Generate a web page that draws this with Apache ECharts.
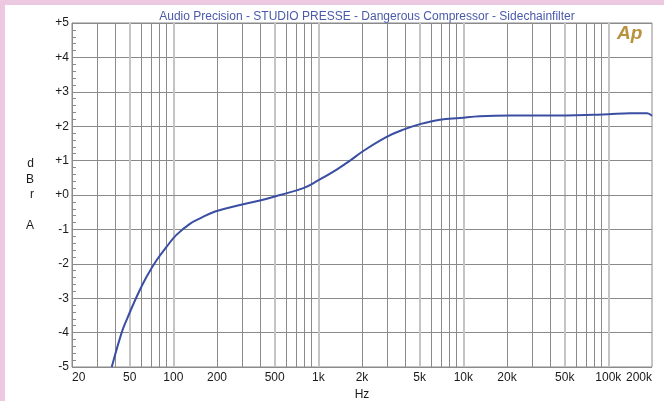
<!DOCTYPE html>
<html>
<head>
<meta charset="utf-8">
<script src="https://cdn.jsdelivr.net/npm/echarts@6/dist/echarts.min.js"></script>
<style>
  html, body { margin: 0; padding: 0; }
  #chart { width: 664px; height: 401px; }
</style>
</head>
<body>
<div id="chart"></div>
<script>
// frequency response
const freqHz = [37.6, 44, 47.7, 57.4, 65.5, 76.8, 90, 105, 130, 153, 194, 288, 396, 544, 788, 974,
  1338, 1654, 2041, 2960, 3855, 5024, 6900, 9480, 13000, 21000, 40000, 78400, 100000, 141000, 185000, 200000]
const levelDb = [-5.0, -4.0, -3.62, -2.85, -2.37, -1.89, -1.5, -1.16, -0.84, -0.68, -0.48, -0.29, -0.16, 0.0, 0.2, 0.4,
  0.74, 1.0, 1.28, 1.69, 1.9, 2.06, 2.19, 2.24, 2.29, 2.31, 2.31, 2.33, 2.35, 2.38, 2.38, 2.3]

// grid lines: the 1x / 5x decades are drawn lighter and wider
const darkLines = [30, 40, 60, 70, 80, 90, 200, 300, 400, 600, 700, 800, 900,
  2000, 3000, 4000, 6000, 7000, 8000, 9000, 20000, 30000, 40000, 60000, 70000, 80000, 90000]
const lightLines = [50, 100, 500, 1000, 5000, 10000, 50000, 100000]
const xTickLabels = [20, 50, 100, 200, 500, 1000, 2000, 5000, 10000, 20000, 50000, 100000, 200000]

const title = 'Audio Precision - STUDIO PRESSE - Dangerous Compressor - Sidechainfilter'

const chart = echarts.init(document.getElementById('chart'))
const font = 'Liberation Sans, Arial, sans-serif'

const fmtHz = v => (v >= 1000 ? v / 1000 + 'k' : String(v))

chart.setOption({
  backgroundColor: '#ffffff',
  animation: false,
  textStyle: { fontFamily: font },
  title: {
    text: title,
    left: 362,
    textAlign: 'center',
    top: 6,
    textStyle: { color: '#4a5aaa', fontSize: 12, fontWeight: 'normal', fontFamily: font }
  },
  graphic: [
    // pink frame on the left and top
    { type: 'rect', left: 0, top: 0, shape: { width: 664, height: 5 }, style: { fill: '#ecc9e1' }, silent: true },
    { type: 'rect', left: 0, top: 0, shape: { width: 5, height: 401 }, style: { fill: '#ecc9e1' }, silent: true },
    // AP logo
    {
      type: 'text', left: 617, top: 24, z: 10,
      style: { text: 'Ap', fill: '#b8913c', font: 'italic bold 19px "Liberation Sans", sans-serif' }
    }
  ],
  grid: {
    left: 72, top: 23, right: 12, bottom: 34,
    outerBoundsMode: 'none',
    show: true, borderColor: '#8a8a8a', borderWidth: 1
  },
  xAxis: [
    {
      type: 'log', min: 20, max: 200000, position: 'bottom',
      axisLine: { show: true, lineStyle: { color: '#8a8a8a' } },
      axisTick: { show: false, customValues: darkLines },
      axisLabel: { show: false },
      splitLine: { show: true, lineStyle: { color: '#8a8a8a', width: 1 } }
    },
    {
      type: 'log', min: 20, max: 200000, position: 'bottom',
      axisLine: { show: false },
      axisTick: { show: false, customValues: lightLines },
      axisLabel: {
        show: true, customValues: xTickLabels, formatter: fmtHz,
        color: '#1a1a1a', fontSize: 12, margin: 5,
        alignMinLabel: 'left', alignMaxLabel: 'right'
      },
      splitLine: { show: true, lineStyle: { color: '#c4c4c4', width: 2 } },
      name: 'Hz', nameLocation: 'middle', nameGap: 20,
      nameTextStyle: { color: '#1a1a1a', fontSize: 12 }
    }
  ],
  yAxis: {
    type: 'value', min: -5, max: 5, interval: 1,
    axisLine: { show: true, lineStyle: { color: '#8a8a8a' } },
    axisTick: { show: false, inside: true },
    minorTick: { show: true, splitNumber: 5, length: 4, lineStyle: { color: '#8a8a8a' } },
    axisLabel: {
      color: '#1a1a1a', fontSize: 12, margin: 3,
      formatter: v => (v >= 0 ? '+' + v : String(v))
    },
    splitLine: { show: true, lineStyle: { color: '#8a8a8a', width: 1 } },
    name: 'd\nB\nr\n\nA', nameLocation: 'middle', nameRotate: 0, nameGap: 38,
    nameTextStyle: { color: '#1a1a1a', fontSize: 12, lineHeight: 15.5, padding: [6, 0, 0, 0] }
  },
  series: [
    {
      type: 'line',
      xAxisIndex: 0,
      data: freqHz.map((f, i) => [f, levelDb[i]]),
      smooth: 0.4,
      showSymbol: false,
      clip: true,
      lineStyle: { color: '#3a4ea2', width: 2 }
    }
  ]
})
</script>
</body>
</html>
